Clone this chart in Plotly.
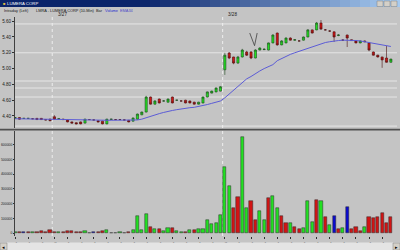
import plotly.graph_objects as go

# ---------------- data ----------------
OPEN = [
    # 3/26 14:30-15:50
    4.37, 4.38, 4.37, 4.37, 4.365, 4.37, 4.37, 4.355, 4.36,
    # 3/27
    4.39, 4.36, 4.36, 4.35, 4.325, 4.315, 4.325, 4.31, 4.355, 4.35,
    4.34, 4.335, 4.30, 4.355, 4.355, 4.355, 4.35, 4.345, 4.335, 4.36,
    4.415, 4.45, 4.64, 4.55, 4.615, 4.59, 4.575, 4.64, 4.60, 4.59,
    4.60, 4.59, 4.575, 4.55, 4.565, 4.64, 4.69, 4.705, 4.715,
    # 3/28
    4.985, 5.197, 5.147, 5.07, 5.147, 5.21, 5.21, 5.134, 5.235, 5.24,
    5.235, 5.325, 5.45, 5.30, 5.325, 5.387, 5.36, 5.35, 5.36, 5.40,
    5.49, 5.49, 5.577, 5.49, 5.475, 5.465, 5.42, 5.36, 5.425, 5.365,
    5.35, 5.325, 5.35, 5.325, 5.21, 5.17, 5.147, 5.134, 5.08,
]
HIGH = [
    4.385, 4.385, 4.375, 4.375, 4.37, 4.375, 4.375, 4.36, 4.365,
    4.41, 4.37, 4.365, 4.355, 4.33, 4.32, 4.33, 4.365, 4.36, 4.355,
    4.345, 4.34, 4.365, 4.365, 4.36, 4.36, 4.355, 4.35, 4.38, 4.43,
    4.455, 4.655, 4.645, 4.60, 4.62, 4.60, 4.62, 4.645, 4.605, 4.595,
    4.605, 4.595, 4.58, 4.58, 4.645, 4.71, 4.72, 4.76, 4.78,
    5.20, 5.21, 5.15, 5.16, 5.25, 5.225, 5.22, 5.245, 5.27, 5.255,
    5.33, 5.435, 5.455, 5.36, 5.395, 5.395, 5.37, 5.355, 5.405, 5.50,
    5.495, 5.59, 5.615, 5.50, 5.485, 5.47, 5.435, 5.37, 5.43, 5.37,
    5.355, 5.355, 5.355, 5.33, 5.215, 5.175, 5.15, 5.286, 5.125,
]
LOW = [
    4.365, 4.355, 4.365, 4.365, 4.36, 4.35, 4.35, 4.345, 4.335,
    4.35, 4.355, 4.35, 4.32, 4.305, 4.295, 4.295, 4.305, 4.35, 4.345,
    4.32, 4.295, 4.295, 4.35, 4.35, 4.35, 4.345, 4.32, 4.33, 4.355,
    4.41, 4.445, 4.545, 4.545, 4.56, 4.585, 4.57, 4.56, 4.595, 4.585,
    4.56, 4.56, 4.545, 4.545, 4.56, 4.635, 4.685, 4.70, 4.71,
    4.92, 5.12, 5.055, 5.06, 5.14, 5.16, 5.12, 5.13, 5.23, 5.235,
    5.23, 5.32, 5.29, 5.295, 5.32, 5.355, 5.355, 5.345, 5.355, 5.395,
    5.445, 5.485, 5.49, 5.485, 5.465, 5.337, 5.41, 5.355, 5.273, 5.35,
    5.32, 5.32, 5.335, 5.22, 5.165, 5.14, 5.01, 5.075, 5.075,
]
CLOSE = [
    4.38, 4.36, 4.37, 4.37, 4.365, 4.355, 4.355, 4.35, 4.34,
    4.36, 4.365, 4.355, 4.325, 4.31, 4.30, 4.30, 4.36, 4.355, 4.35,
    4.325, 4.30, 4.36, 4.36, 4.355, 4.355, 4.35, 4.325, 4.375, 4.425,
    4.45, 4.64, 4.55, 4.59, 4.565, 4.59, 4.615, 4.565, 4.60, 4.59,
    4.565, 4.565, 4.55, 4.575, 4.64, 4.705, 4.715, 4.755, 4.77,
    5.17, 5.134, 5.07, 5.147, 5.235, 5.17, 5.134, 5.235, 5.26, 5.245,
    5.325, 5.425, 5.30, 5.35, 5.387, 5.36, 5.365, 5.35, 5.40, 5.49,
    5.45, 5.577, 5.50, 5.49, 5.475, 5.40, 5.425, 5.36, 5.387, 5.355,
    5.325, 5.35, 5.34, 5.235, 5.17, 5.147, 5.11, 5.08, 5.12,
]
EMA34 = [
    4.365, 4.365, 4.364, 4.364, 4.363, 4.363, 4.362, 4.361, 4.360,
    4.358, 4.357, 4.356, 4.355, 4.353, 4.351, 4.349, 4.348, 4.348, 4.348,
    4.347, 4.346, 4.346, 4.346, 4.346, 4.346, 4.346, 4.345, 4.345, 4.350,
    4.360, 4.380, 4.400, 4.415, 4.430, 4.445, 4.460, 4.470, 4.480, 4.490,
    4.500, 4.505, 4.510, 4.520, 4.530, 4.545, 4.560, 4.575, 4.590,
    4.63, 4.68, 4.73, 4.78, 4.83, 4.87, 4.90, 4.94, 4.97, 5.00,
    5.02, 5.05, 5.10, 5.13, 5.16, 5.18, 5.20, 5.22, 5.24, 5.26,
    5.28, 5.30, 5.32, 5.33, 5.34, 5.35, 5.355, 5.36, 5.36, 5.36,
    5.355, 5.35, 5.34, 5.33, 5.32, 5.31, 5.30, 5.29, 5.28,
]
VOLUME = [
    6000, 8000, 4000, 5000, 7000, 10000, 12000, 9000, 20000,
    8000, 5000, 4000, 14000, 14000, 6000, 5000, 14000, 3000, 5000,
    8000, 12000, 20000, 3000, 3000, 4000, 3000, 6000, 20000, 115000,
    20000, 130000, 40000, 27000, 27000, 12000, 35000, 35000, 12000, 5000,
    8000, 20000, 20000, 27000, 27000, 88000, 60000, 67000, 122000,
    449000, 320000, 170000, 245000, 653000, 170000, 218000, 88000, 150000, 88000,
    238000, 252000, 170000, 116000, 68000, 68000, 41000, 27000, 34000, 218000,
    75000, 225000, 218000, 109000, 54000, 116000, 27000, 34000, 177000, 27000,
    41000, 14000, 41000, 109000, 102000, 109000, 136000, 68000, 109000,
]
VOL_COLOR = list(
    "grbrgrrrr"
    "rgrrrrrggb" "rrggggg" "rg" "ggg" "rgrggrg" "grgrg" "gggggg"
    "grrggrrggr" "ggrrgrrgg" "grgrgbrgbr" "rrgrrrrrrg"
)
TICK_LABELS = [
    "14:30", "15:00", "15:30",
    "9:30", "10:00", "10:30", "11:00", "11:30", "12:00", "12:30",
    "13:00", "13:30", "14:00", "14:30", "15:00", "15:30",
    "9:30", "10:00", "10:30", "11:00", "11:30", "12:00", "12:30",
    "13:00", "13:30", "14:00", "14:30", "15:00", "15:30",
]
DAY_LABELS = ["3/27", "3/28"]
DAY_START_BAR = [9, 48]
LEVELS = [5.565, 5.20, 4.843, 4.754, 4.64, 4.272]
V_MARK_X = [53.7, 54.8, 55.4]
V_MARK_Y = [5.45, 5.29, 5.45]
PRICE_TICKS = [4.40, 4.60, 4.80, 5.00, 5.20, 5.40, 5.60]
VOL_TICKS = [0, 100000, 200000, 300000, 400000, 500000, 600000]

# ---------------- figure ----------------
n = len(CLOSE)
idx = list(range(n))
BG = "#c4c4c4"
W, H = 400, 250
L, R, T, B = 15, 3, 17, 14
PH = H - T - B
PW = W - L - R


def py(Y):  # pixel row -> paper y
    return (H - B - Y) / PH


def px(X):  # pixel col -> paper x
    return (X - L) / PW


cmap = {"g": "#22e022", "r": "#d21414", "b": "#0a0ad0"}
VCOL = VOL_COLOR[:n] + ["g"] * max(0, n - len(VOL_COLOR))

fig = go.Figure()
fig.add_trace(go.Candlestick(
    x=idx, open=OPEN, high=HIGH, low=LOW, close=CLOSE,
    xaxis="x", yaxis="y", whiskerwidth=0,
    increasing=dict(fillcolor="#22e022", line=dict(color="#1c4a1c", width=0.6)),
    decreasing=dict(fillcolor="#d21414", line=dict(color="#4a1010", width=0.6)),
    showlegend=False, hoverinfo="skip",
))
fig.add_trace(go.Scatter(
    x=idx, y=EMA34, mode="lines", xaxis="x", yaxis="y",
    line=dict(color="#5c5cd6", width=1), showlegend=False, hoverinfo="skip",
))
fig.add_trace(go.Scatter(
    x=V_MARK_X, y=V_MARK_Y, mode="lines", xaxis="x", yaxis="y",
    line=dict(color="#404040", width=0.8), showlegend=False, hoverinfo="skip",
))
fig.add_trace(go.Bar(
    x=idx, y=VOLUME, xaxis="x2", yaxis="y2", width=0.72,
    marker=dict(color=[cmap[c] for c in VCOL], line=dict(color="#2a2a2a", width=0.5)),
    showlegend=False, hoverinfo="skip",
))

shapes = []
for lv in LEVELS:
    shapes.append(dict(type="line", xref="paper", yref="y", x0=0, x1=1, y0=lv, y1=lv,
                       line=dict(color="#e6e6e6", width=1), layer="below"))
for d in DAY_START_BAR:
    shapes.append(dict(type="line", xref="x", yref="paper", x0=d - 0.5, x1=d - 0.5,
                       y0=0, y1=1, line=dict(color="#eeeeee", width=1, dash="dot"),
                       layer="below"))
shapes.append(dict(type="line", xref="paper", yref="paper", x0=px(0), x1=px(W),
                   y0=py(129.6), y1=py(129.6), line=dict(color="#505050", width=1.6)))
steps = 40
c0 = (10, 36, 106)
c1 = (166, 202, 240)
for i in range(steps):
    f = i / (steps - 1)
    f2 = max(0.0, (f - 0.35) / 0.65)
    col = tuple(int(c0[k] + (c1[k] - c0[k]) * f2) for k in range(3))
    shapes.append(dict(type="rect", xref="paper", yref="paper",
                       x0=px(W * i / steps), x1=px(W * (i + 1) / steps + 0.5),
                       y0=py(7), y1=py(0), line=dict(width=0),
                       fillcolor="rgb(%d,%d,%d)" % col))
for bx in (377, 384, 391):
    shapes.append(dict(type="rect", xref="paper", yref="paper",
                       x0=px(bx), x1=px(bx + 6), y0=py(6.5), y1=py(1),
                       line=dict(color="#808080", width=0.5), fillcolor="#d4d0c8"))
shapes.append(dict(type="rect", xref="paper", yref="paper", x0=px(0), x1=px(W),
                   y0=py(H), y1=py(242.5), line=dict(width=0), fillcolor="#e4e4e4"))
for bx in (0, 393):
    shapes.append(dict(type="rect", xref="paper", yref="paper", x0=px(bx), x1=px(bx + 7),
                       y0=py(H), y1=py(243), line=dict(color="#808080", width=0.5),
                       fillcolor="#d4d0c8"))

FONT = "Liberation Sans, Arial, sans-serif"
small = dict(family=FONT, size=4.6, color="#202020")
vfont = dict(family=FONT, size=3.4, color="#202020")
ann = []
ann.append(dict(xref="paper", yref="paper", x=px(5), y=py(3.6), text="LUMERA CORP",
                showarrow=False, xanchor="left", yanchor="middle",
                font=dict(family=FONT, size=4.3, color="white")))
ann.append(dict(xref="paper", yref="paper", x=px(0.5), y=py(3.6), text="■",
                showarrow=False, xanchor="left", yanchor="middle",
                font=dict(size=4, color="#e0c040")))
for x0, txt, col in [(3, "Intraday (Left)", "#202020"),
                     (35, "LMRA - LUMERA CORP (10-Min)", "#202020"),
                     (95, "Bar", "#202020"),
                     (104, "Volume", "#2a2ad0"),
                     (119, "EMA34", "#5050c8")]:
    ann.append(dict(xref="paper", yref="paper", x=px(x0), y=py(10.8), text=txt,
                    showarrow=False, xanchor="left", yanchor="middle", borderpad=0,
                    font=dict(family=FONT, size=3.9, color=col)))
for lab, d in zip(DAY_LABELS, DAY_START_BAR):
    ann.append(dict(xref="x", yref="paper", x=d + 0.3, y=py(14.3), text=lab,
                    showarrow=False, xanchor="left", yanchor="middle", font=small))
ann.append(dict(xref="paper", yref="paper", x=px(3.5), y=py(246.5), text="◂",
                showarrow=False, xanchor="center", yanchor="middle",
                font=dict(size=5, color="#000")))
ann.append(dict(xref="paper", yref="paper", x=px(396.5), y=py(246.5), text="▸",
                showarrow=False, xanchor="center", yanchor="middle",
                font=dict(size=5, color="#000")))

price_dom = [py(128), 1.0]
vol_dom = [0.0, py(131)]
xr = [-0.02, 87.4]

fig.update_layout(
    template="none",
    width=W, height=H,
    margin=dict(l=L, r=R, t=T, b=B, pad=0, autoexpand=False),
    paper_bgcolor=BG, plot_bgcolor=BG,
    showlegend=False, bargap=0,
    shapes=shapes, annotations=ann,
    xaxis=dict(domain=[0, 1], range=xr, anchor="y", showticklabels=False,
               showgrid=False, zeroline=False, rangeslider=dict(visible=False),
               automargin=False, ticks=""),
    xaxis2=dict(domain=[0, 1], range=xr, anchor="y2", matches="x",
                tickmode="array", tickvals=list(range(0, 3 * len(TICK_LABELS), 3)),
                ticktext=TICK_LABELS, ticks="outside", ticklen=2, tickcolor="#303030",
                tickfont=small, showgrid=False, zeroline=False,
                showline=False, automargin=False),
    yaxis=dict(domain=price_dom, range=[4.248, 5.653], tickmode="array",
               tickvals=PRICE_TICKS, ticktext=["%.2f" % v for v in PRICE_TICKS],
               ticks="outside", ticklen=2, tickcolor="#303030", tickfont=small,
               showgrid=False, zeroline=False, showline=True, linecolor="#404040",
               linewidth=1, automargin=False),
    yaxis2=dict(domain=vol_dom, range=[-20400, 694000], tickmode="array",
                tickvals=VOL_TICKS, ticktext=[str(v) for v in VOL_TICKS],
                ticks="outside", ticklen=1, tickcolor="#303030", tickfont=vfont,
                showgrid=False, zeroline=False, showline=True, linecolor="#404040",
                linewidth=1, automargin=False),
)

fig.write_html("out.html")
